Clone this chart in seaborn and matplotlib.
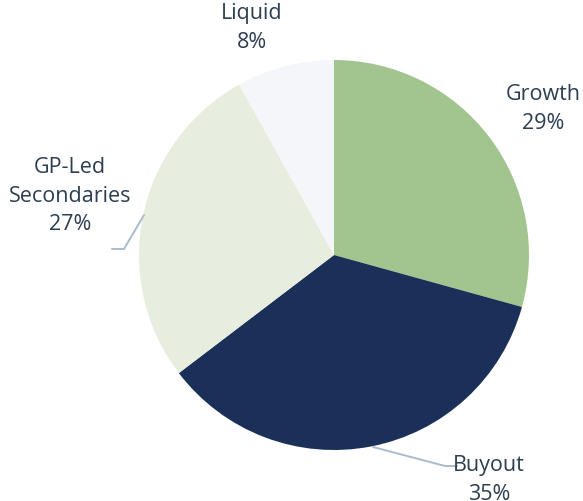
import matplotlib
matplotlib.use("Agg")
import matplotlib.pyplot as plt
import seaborn as sns

categories = ["Growth", "Buyout", "GP-Led\nSecondaries", "Liquid"]
shares = [29, 35, 27, 8]
colors = ["#a2c48f", "#1b3059", "#e8eedf", "#f4f6f9"]

sns.set_theme(style="white")
plt.rcParams["font.family"] = ["Open Sans", "DejaVu Sans"]

W, H = 583, 501
CX, CY, R = 334, 255, 195

fig = plt.figure(figsize=(W / 100, H / 100), dpi=100)
ax = fig.add_axes([0, 0, 1, 1])
ax.pie(shares, colors=colors, startangle=90, counterclock=False,
       radius=1, wedgeprops=dict(linewidth=0))
ax.set_xlim(-CX / R, (W - CX) / R)
ax.set_ylim(-(H - CY) / R, CY / R)
ax.set_aspect("equal")
ax.axis("off")


def px(x, y):
    return (x - CX) / R, (CY - y) / R


text_color = "#2d3e50"
line_color = "#a9bccf"
label_pos = [(543, 109), (489, 480), (70, 196), (252, 28)]
for cat, s, (x, y) in zip(categories, shares, label_pos):
    ax.text(*px(x, y), f"{cat}\n{s}%", ha="center", va="center",
            fontsize=15.5, color=text_color, linespacing=1.45)

# leader lines
for pts in [[(144, 215), (124, 249), (112, 249)],
            [(373, 447), (445, 466), (457, 466)]]:
    xs, ys = zip(*[px(a, b) for a, b in pts])
    ax.plot(xs, ys, color=line_color, lw=1.4)

fig.savefig("out.png", dpi=100)
